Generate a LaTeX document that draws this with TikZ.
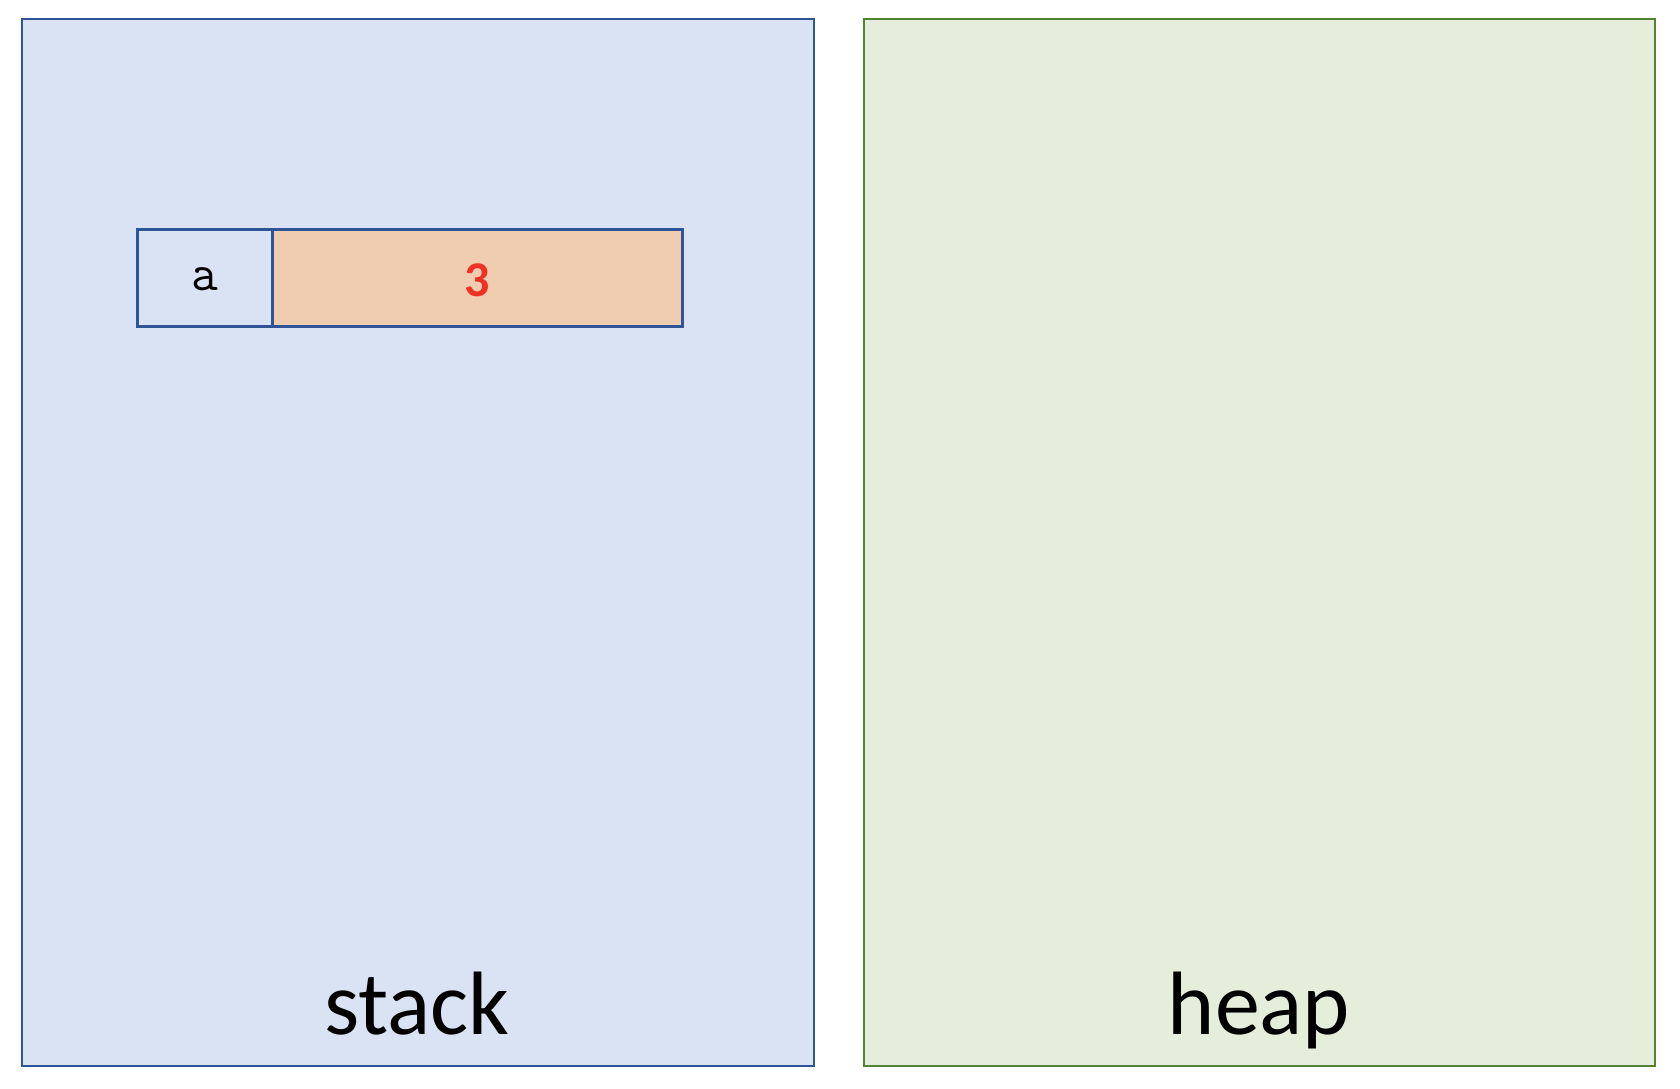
\documentclass[tikz,border=0pt]{standalone}
\usepackage{fontspec}
\setmainfont{Carlito}
\definecolor{stackfill}{HTML}{DAE3F3}
\definecolor{stackline}{HTML}{2F5597}
\definecolor{heapfill}{HTML}{E4EEDB}
\definecolor{heapline}{HTML}{548235}
\definecolor{valfill}{HTML}{F0CCB0}
\definecolor{valtext}{HTML}{EE3124}
\begin{document}
\begin{tikzpicture}[x=1pt,y=-1pt,
  region/.style={line width=2.9pt},
  cellbox/.style={draw=stackline,line width=2.8pt},
  biglabel/.style={font=\fontsize{90}{90}\selectfont,anchor=base,inner sep=0pt}]
\useasboundingbox (0,0) rectangle (1680,1088);
\fill[white] (0,0) rectangle (1680,1088);
\draw[region,draw=stackline,fill=stackfill] (22,19) rectangle (814,1066);
\draw[region,draw=heapline,fill=heapfill] (864,19) rectangle (1655,1066);
\node[cellbox,fill=stackfill,minimum width=135pt,minimum height=97pt,inner sep=0pt,anchor=north west] (name) at (136,228) {};
\node[cellbox,fill=valfill,minimum width=410pt,minimum height=97pt,inner sep=0pt,anchor=north west] (val) at (271,228) {};
\node[font=\ttfamily\fontsize{52}{52}\selectfont] at ([yshift=-1]name.center) {a};
\node[font=\bfseries\fontsize{50}{50}\selectfont,text=valtext] at ([yshift=-2]val.center) {3};
\node[biglabel] (stack) at (417,1034) {stack};
\node[biglabel] (heap) at (1259,1034) {heap};
\end{tikzpicture}
\end{document}
